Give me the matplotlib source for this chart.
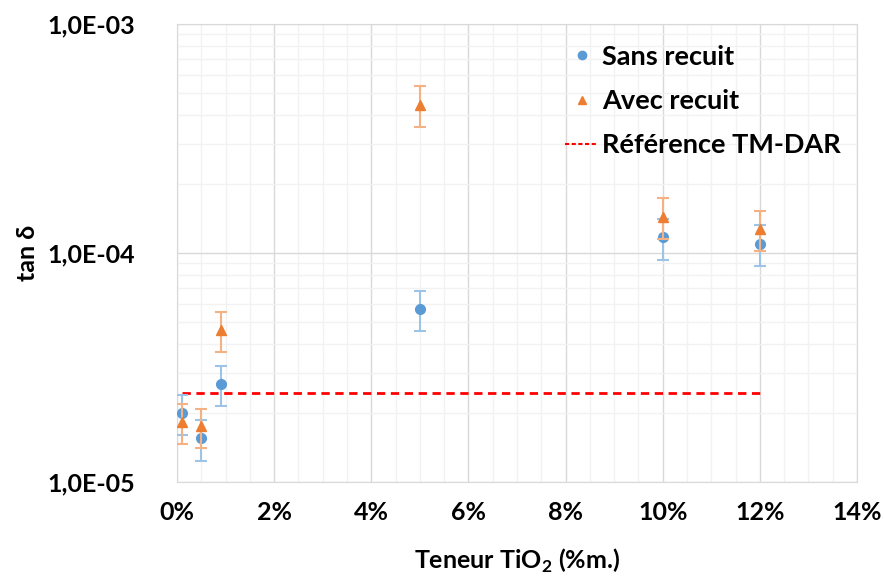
import matplotlib.pyplot as plt
from matplotlib.lines import Line2D
from matplotlib.ticker import FixedLocator, FuncFormatter, MultipleLocator, LogLocator, NullFormatter

plt.rcParams['font.family'] = ['Lato', 'DejaVu Sans']
plt.rcParams['font.weight'] = 'bold'
plt.rcParams['axes.labelweight'] = 'bold'

# teneur en TiO2 (fraction massique)
teneur = [0.001, 0.005, 0.009, 0.05, 0.10, 0.12]

sans_recuit = [2.0e-5, 1.55e-5, 2.68e-5, 5.7e-5, 1.17e-4, 1.10e-4]
sans_err = [4.0e-6, 3.1e-6, 5.4e-6, 1.14e-5, 2.34e-5, 2.2e-5]

avec_recuit = [1.82e-5, 1.75e-5, 4.6e-5, 4.45e-4, 1.44e-4, 1.27e-4]
avec_err = [3.6e-6, 3.4e-6, 9.0e-6, 8.9e-5, 2.9e-5, 2.5e-5]

ref_x = [0.001, 0.12]
ref_val = 2.45e-5

blue = "#5B9BD5"
orange = "#ED7D31"
red = "#FF0000"

fig = plt.figure(figsize=(8.84, 5.77), dpi=100)
ax = fig.add_axes([177 / 884, 1 - 482 / 577, (857 - 177) / 884, (482 - 24) / 577])

ax.errorbar(teneur, sans_recuit, yerr=sans_err, fmt="o", color=blue, ms=7,
            ecolor="#9DC3E6", elinewidth=1.5, capsize=4, capthick=1.5, zorder=3)
ax.errorbar(teneur, avec_recuit, yerr=avec_err, fmt="^", color=orange, ms=7.5,
            ecolor="#F4B183", elinewidth=1.5, capsize=4, capthick=1.5, zorder=4)
ax.plot(ref_x, [ref_val, ref_val], linestyle=(0, (3, 2)), color=red,
        linewidth=2, zorder=2)

ax.set_yscale("log")
ax.set_ylim(1e-5, 1e-3)
ax.set_xlim(0, 0.14)

ax.xaxis.set_major_locator(MultipleLocator(0.02))
ax.xaxis.set_minor_locator(MultipleLocator(0.005))
ax.xaxis.set_major_formatter(FuncFormatter(lambda v, p: f"{v * 100:.0f}%"))

ax.yaxis.set_major_locator(FixedLocator([1e-5, 1e-4, 1e-3]))
ax.yaxis.set_minor_locator(LogLocator(base=10, subs=range(2, 10)))
ax.yaxis.set_minor_formatter(NullFormatter())
ax.yaxis.set_major_formatter(FuncFormatter(
    lambda v, p: f"{v:.1E}".replace(".", ",")))

ax.grid(True, which="major", color="#D9D9D9", linewidth=1)
ax.grid(True, which="minor", color="#F2F2F2", linewidth=1)
ax.set_axisbelow(True)
for s in ax.spines.values():
    s.set_color("#D9D9D9")

ax.tick_params(which="both", length=0)
ax.tick_params(axis="x", labelsize=18, pad=14)
ax.tick_params(axis="y", labelsize=18, pad=30)

ax.set_xlabel(r"Teneur TiO$_{\mathregular{2}}$ (%m.)", fontsize=18, labelpad=16)
ax.set_ylabel("tan δ", fontsize=18, labelpad=6)

handles = [
    Line2D([], [], marker="o", ls="none", color=blue, ms=6),
    Line2D([], [], marker="^", ls="none", color=orange, ms=6),
    Line2D([], [], ls=(0, (2, 1.2)), color=red, lw=1.5),
]
labels = ["Sans recuit", "Avec recuit", "Référence TM-DAR"]
ax.legend(handles, labels, loc="upper right", bbox_to_anchor=(1.012, 1.008),
          frameon=False, fontsize=19.5, handlelength=1.2, handletextpad=0.15,
          labelspacing=0.75)

fig.savefig("out.png", dpi=100)
